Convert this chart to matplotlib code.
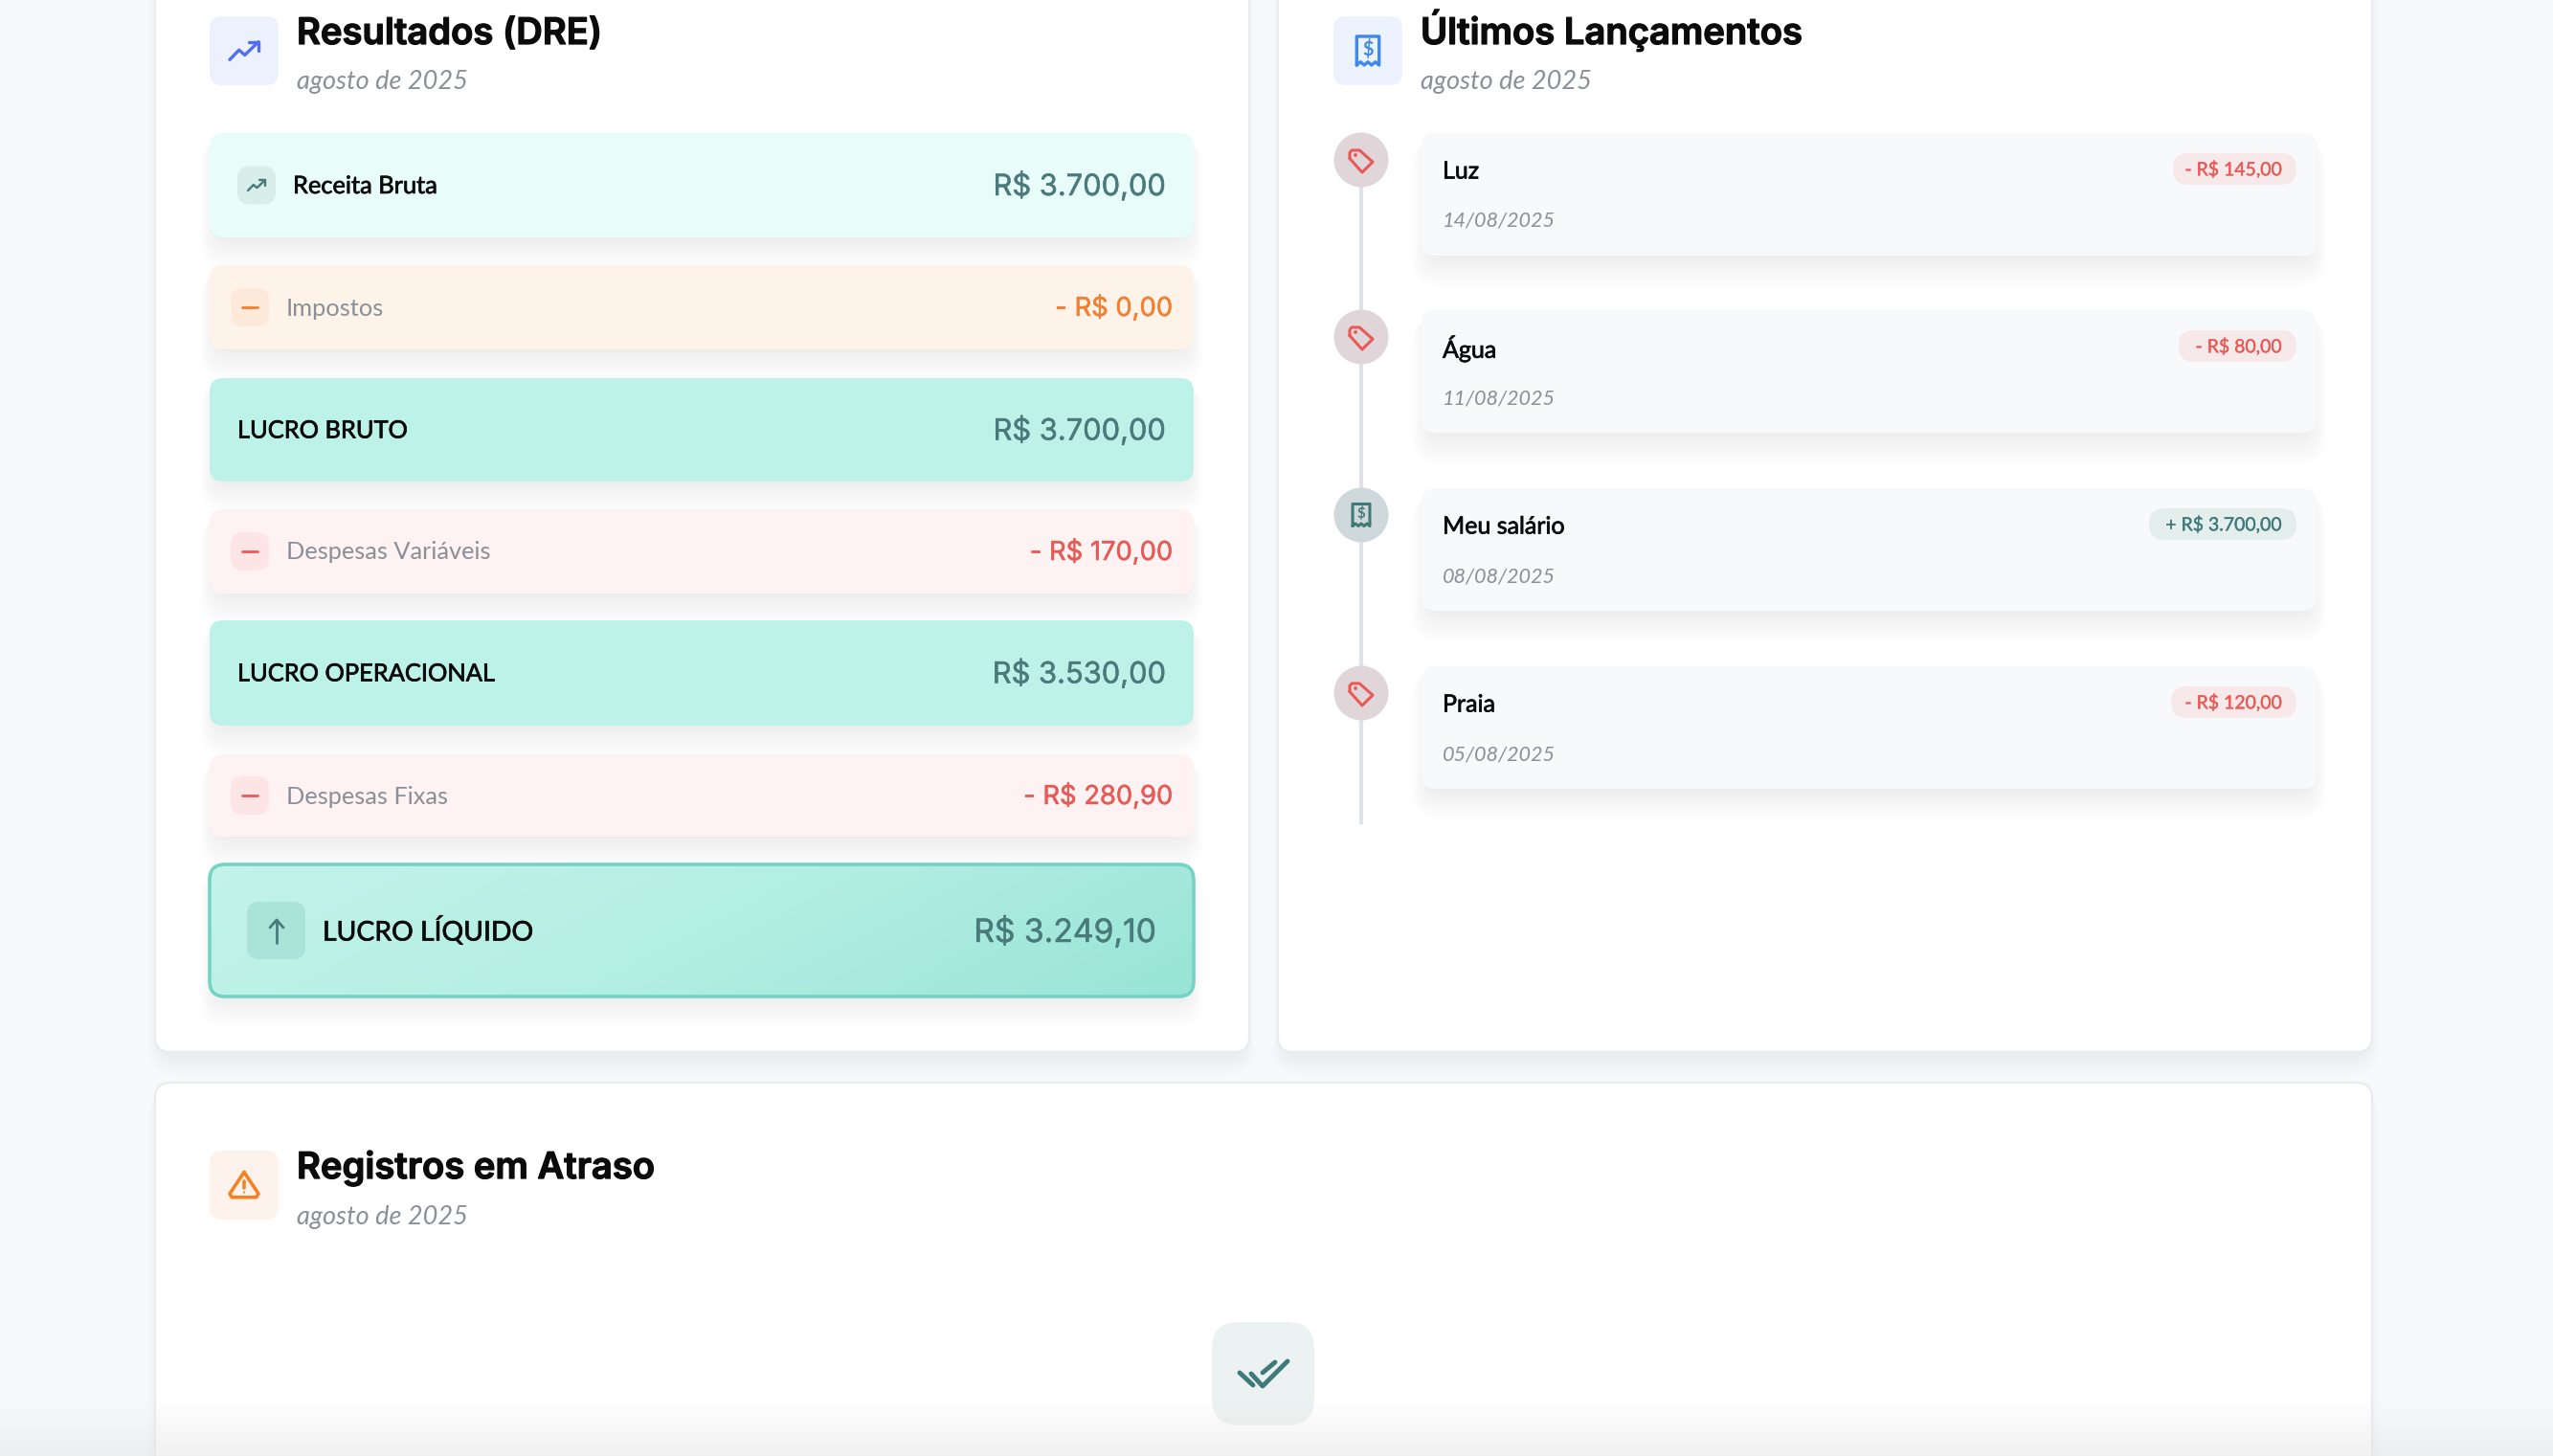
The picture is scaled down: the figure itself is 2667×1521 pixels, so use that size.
import numpy as np
import matplotlib
matplotlib.use("Agg")
import matplotlib.pyplot as plt
from matplotlib.patches import FancyBboxPatch, Circle
from matplotlib.colors import LinearSegmentedColormap
import matplotlib.patheffects as pe

# ---------- data ----------
period = "agosto de 2025"
dre_title = "Resultados (DRE)"
feed_title = "Últimos Lançamentos"
late_title = "Registros em Atraso"
dre_labels = ["Receita Bruta", "Impostos", "LUCRO BRUTO", "Despesas Variáveis",
              "LUCRO OPERACIONAL", "Despesas Fixas", "LUCRO LÍQUIDO"]
dre_values = ["R$ 3.700,00", "- R$ 0,00", "R$ 3.700,00", "- R$ 170,00",
              "R$ 3.530,00", "- R$ 280,90", "R$ 3.249,10"]
dre_kinds = ["income", "tax", "subtotal", "expense", "subtotal", "expense", "net"]
feed_names = ["Luz", "Água", "Meu salário", "Praia"]
feed_dates = ["14/08/2025", "11/08/2025", "08/08/2025", "05/08/2025"]
feed_amounts = ["- R$ 145,00", "- R$ 80,00", "+ R$ 3.700,00", "- R$ 120,00"]

W, H = 2667, 1521
fig = plt.figure(figsize=(W/100, H/100), dpi=100, facecolor="#f8f9fb")
ax = fig.add_axes([0, 0, 1, 1])
ax.set_xlim(0, W); ax.set_ylim(H, 0); ax.axis("off")

TEAL = "#4a7a7b"; RED = "#e95a56"; ORANGE = "#f08032"; GREY = "#8a8f98"; BLUE = "#4f6ef2"
INK = "#0b0b0b"
SANS = ["Lato", "DejaVu Sans"]
HEAD = ["Inter", "DejaVu Sans"]

def rrect(x0, y0, x1, y1, r, fc, ec="none", lw=0, z=2, alpha=None):
    p = FancyBboxPatch((x0, y0), x1-x0, y1-y0, boxstyle=f"round,pad=0,rounding_size={r}",
                       fc=fc, ec=ec, lw=lw, zorder=z, alpha=alpha, mutation_aspect=1)
    ax.add_patch(p); return p

def shadow(x0, y0, x1, y1, r, reach=34, strength=0.0035, z=1.5):
    for i in range(reach, 0, -2):
        rrect(x0+8-i*0.55, y0+6, x1-8+i*0.55, y1+i, r+i*0.5, "#5a6472", z=z, alpha=strength)

def line(xs, ys, c, lw=2.4, z=5):
    ax.plot(xs, ys, color=c, lw=lw, zorder=z, solid_capstyle="round", solid_joinstyle="round")

def icon_trend(cx, cy, s, c, lw=2.4):
    line([cx-s, cx-s*0.35, cx+s*0.05, cx+s], [cy+s*0.62, cy-s*0.05, cy+s*0.3, cy-s*0.62], c, lw)
    line([cx+s*0.3, cx+s, cx+s], [cy-s*0.62, cy-s*0.62, cy+s*0.02], c, lw)

def icon_tag(cx, cy, s, c, lw=2.2):
    pts = np.array([[-1,-.2],[-1,-.72],[-.82,-.92],[-.15,-.92],[1,.1],[.08,1],[-1,-.2]])*s
    line(pts[:,0]+cx, pts[:,1]+cy, c, lw)
    ax.add_patch(Circle((cx-s*0.5, cy-s*0.5), s*0.16, fc=c, ec="none", zorder=5))

def icon_receipt(cx, cy, s, c, lw=2.4):
    k = s*0.78
    xs = [-k, -k, k, k, k*.66, k*.33, 0, -k*.33, -k*.66, -k]
    ys = [s, -s, -s, s, s*.78, s, s*.78, s, s*.78, s]
    line([cx+v for v in xs], [cy+v for v in ys], c, lw)
    ax.text(cx, cy-s*0.12, "$", ha="center", va="center", fontsize=s*0.95, color=c,
            family=SANS, weight="bold", zorder=5)

def icon_alert(cx, cy, s, c, lw=2.6):
    line([cx, cx+s, cx+s*.85, cx-s*.85, cx-s, cx], [cy-s*.9, cy+s*.6, cy+s*.85, cy+s*.85, cy+s*.6, cy-s*.9], c, lw)
    line([cx, cx], [cy-s*.3, cy+s*.22], c, lw)
    ax.add_patch(Circle((cx, cy+s*.5), s*.07, fc=c, ec="none", zorder=5))

def header(x, y, title, icon_fc, icon, c):
    rrect(x, y, x+72, y+72, 13, icon_fc)
    icon(x+36, y+36, 15, c)
    ax.text(x+91, y+29, title, fontsize=27.5, family=HEAD, weight="semibold", color=INK,
            va="baseline", ha="left", zorder=5,
            path_effects=[pe.withStroke(linewidth=0.9, foreground=INK)])
    ax.text(x+91, y+69, period, fontsize=19.5, family=SANS, style="italic", color=GREY,
            va="center", ha="left", zorder=5)

def money(x, y, s, size, c):
    ax.text(x, y-2, s, fontsize=size, family=HEAD, color=c, ha="right", va="center_baseline", zorder=5,
            path_effects=[pe.withStroke(linewidth=0.35, foreground=c)])

def label(x, y, s, size, c=INK, bold=True):
    kw = {"path_effects": [pe.withStroke(linewidth=0.5, foreground=c)]} if bold else {}
    ax.text(x, y+2, s, fontsize=size, family=SANS, color=c, va="center", zorder=5, **kw)

# ---------- cards ----------
for (x0, y0, x1, y1) in [(162, -40, 1305, 1099), (1335, -40, 2478, 1099), (162, 1131, 2478, 1600)]:
    shadow(x0, y0, x1, y1, 18, reach=28, strength=0.003, z=0.5)
    rrect(x0, y0, x1, y1, 16, "#ffffff", ec="#e9ebef", lw=1.5, z=1)

header(219, 17, dre_title, "#edf1fe", icon_trend, BLUE)
header(1393, 17, feed_title, "#edf3fe", icon_receipt, "#3f87e8")
header(219, 1202, late_title, "#fef3ec", icon_alert, "#f58220")

# ---------- DRE rows ----------
tops = [139, 277, 395, 532, 648, 788, 903]
bots = [248, 365, 503, 620, 758, 874, 1041]
L, R = 219, 1247
fills = {"income": "#e8fdf9", "tax": "#fef3e8", "subtotal": "#bdf2e8", "expense": "#fef3f2"}
for lab, val, kind, t, b in zip(dre_labels, dre_values, dre_kinds, tops, bots):
    cy = (t+b)/2
    shadow(L, t, R, b, 14)
    if kind == "net":
        rrect(L, t, R, b, 16, "none", ec="#74d3c5", lw=2.6, z=3)
        g = np.linspace(0, 1, 300)[None, :] + 0.25*np.linspace(0, 1, 60)[:, None]
        cmap = LinearSegmentedColormap.from_list("n", ["#c3f3e9", "#b4efe3", "#98e4d7"])
        im = ax.imshow(g, extent=(L, R, b, t), cmap=cmap, aspect="auto", zorder=2.5, vmin=0, vmax=1.25)
        im.set_clip_path(rrect(L, t, R, b, 16, "none", z=0))
        rrect(L+39, t+39, L+100, b-39, 13, "#aae3d8", z=3)
        line([L+70, L+70], [cy-11, cy+13], TEAL, 2.0)
        line([L+63, L+70, L+77], [cy-3, cy-11, cy-3], TEAL, 2.0)
        label(L+118, cy-2, lab, 20.4)
        money(R-39, cy, val, 24.2, TEAL)
    elif kind in ("income", "subtotal"):
        rrect(L, t, R, b, 14, fills[kind])
        if kind == "income":
            rrect(L+29, cy-20, L+69, cy+20, 13, "#d8eeea")
            icon_trend(L+49, cy, 9, TEAL, 1.7)
            tx = L+87
        else:
            tx = L+29
        label(tx, cy-1, lab, 18.3)
        money(R-29, cy, val, 22.2, TEAL)
    else:
        col = ORANGE if kind == "tax" else RED
        chip = "#fde9d9" if kind == "tax" else "#fde5e5"
        rrect(L, t, R, b, 14, fills[kind])
        rrect(L+22, cy-20, L+62, cy+20, 13, chip)
        line([L+34, L+50], [cy, cy], col, 2.0)
        label(L+80, cy-1, lab, 18.3, GREY, bold=False)
        money(R-22, cy, val, 19.7, col)

# ---------- timeline ----------
CX = 1422
f_tops = [139, 324, 510, 696]
pill_left = [2270, 2276, 2245, 2268]
ax.plot([CX, CX], [196, 859], color="#dfe2e8", lw=3, zorder=2)
for name, d, amt, t, pl in zip(feed_names, feed_dates, feed_amounts, f_tops, pill_left):
    income = amt.startswith("+")
    shadow(1485, t, 2420, t+128, 14)
    rrect(1485, t, 2420, t+128, 14, "#f8f9fb")
    ax.add_patch(Circle((CX, t+28), 28.5, fc="#cfd8da" if income else "#e0d6d9", ec="none", zorder=3))
    if income:
        icon_receipt(CX, t+28, 11.5, "#3f7a7a", 2.2)
    else:
        icon_tag(CX, t+29, 12, RED, 2.2)
    label(1507, t+38, name, 18.0)
    ax.text(1507, t+92, d, fontsize=15.6, family=SANS, style="italic", color=GREY, va="center", zorder=5)
    rrect(pl, t+21, 2399, t+54, 16, "#e4eeec" if income else "#f7e9e9", z=3)
    ax.text(2384, t+38, amt, fontsize=14.0, family=SANS, color="#3f7a7a" if income else RED, ha="right",
            va="center", zorder=5, path_effects=[pe.withStroke(linewidth=0.25, foreground="#3f7a7a" if income else RED)])

# ---------- empty state ----------
rrect(1266, 1381, 1373, 1489, 28, "#ecf2f1", z=3)
line([1295, 1309], [1434, 1447], "#3f7a7a", 3.5)
line([1307, 1319, 1345], [1435, 1448, 1422], "#3f7a7a", 3.5)
line([1319, 1332], [1434, 1423], "#3f7a7a", 3.5)

# ---------- bottom fade ----------
fade = np.linspace(0, 1, 60)[:, None, None]
rgba = np.concatenate([np.full((60, 1, 3), 0.90), fade*0.55], axis=2)
ax.imshow(rgba, extent=(0, W, H, H-60), aspect="auto", zorder=20)
ax.set_xlim(0, W); ax.set_ylim(H, 0)

fig.savefig("out.png", dpi=100, facecolor=fig.get_facecolor())
